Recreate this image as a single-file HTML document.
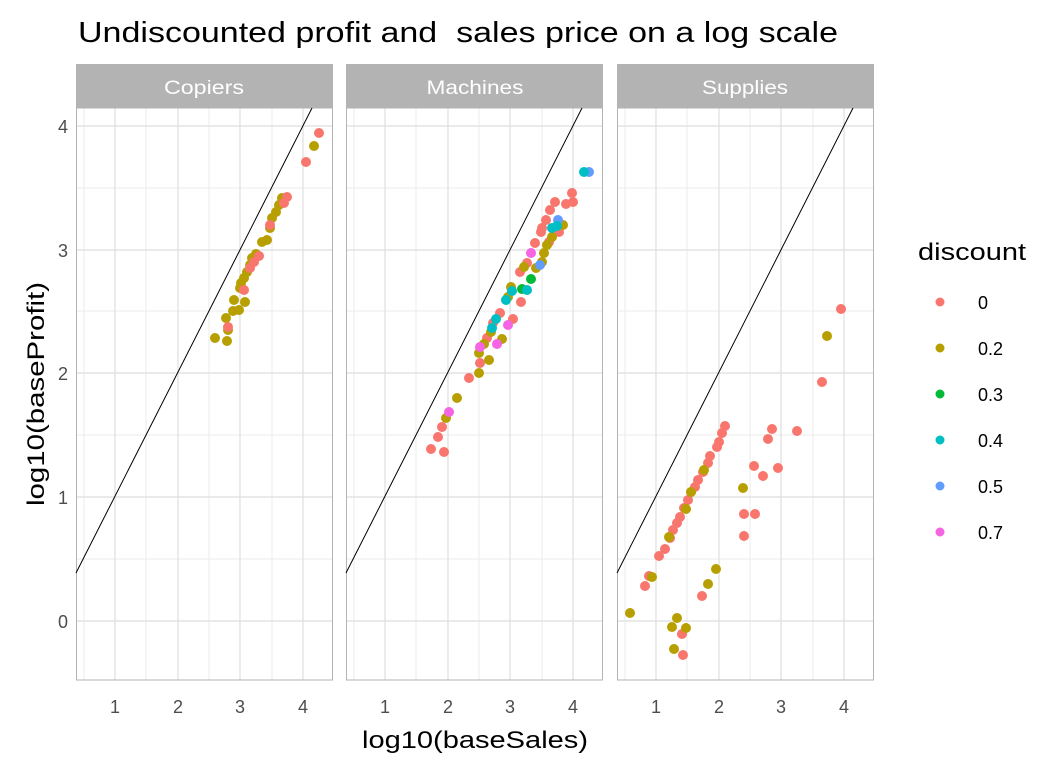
<!DOCTYPE html>
<html><head><style>body{margin:0;background:#fff}svg{display:block}text{font-family:"Liberation Sans",sans-serif}</style></head><body>
<svg width="1056" height="768" xmlns="http://www.w3.org/2000/svg">
<text x="78" y="42" font-size="29" fill="#000" textLength="760" lengthAdjust="spacingAndGlyphs" xml:space="preserve">Undiscounted profit and  sales price on a log scale</text>
<defs>
<g id="grid">
<rect x="0" y="108" width="257" height="572" fill="#fff"/>
<g stroke="#ebebeb" stroke-width="1">
<line x1="8" y1="108" x2="8" y2="680"/><line x1="70" y1="108" x2="70" y2="680"/><line x1="133" y1="108" x2="133" y2="680"/><line x1="196" y1="108" x2="196" y2="680"/>
<line x1="0" y1="559" x2="257" y2="559"/><line x1="0" y1="435" x2="257" y2="435"/><line x1="0" y1="311" x2="257" y2="311"/><line x1="0" y1="188" x2="257" y2="188"/>
</g>
<g stroke="#dedede" stroke-width="1.2">
<line x1="39" y1="108" x2="39" y2="680"/><line x1="102" y1="108" x2="102" y2="680"/><line x1="164" y1="108" x2="164" y2="680"/><line x1="227" y1="108" x2="227" y2="680"/>
<line x1="0" y1="621" x2="257" y2="621"/><line x1="0" y1="497" x2="257" y2="497"/><line x1="0" y1="373" x2="257" y2="373"/><line x1="0" y1="250" x2="257" y2="250"/><line x1="0" y1="126" x2="257" y2="126"/>
</g>
<rect x="0.5" y="108" width="256" height="572" fill="none" stroke="#b3b3b3"/>
<rect x="0" y="64" width="257" height="44" fill="#b3b3b3"/>
<line x1="0" y1="573" x2="236" y2="108" stroke="#000" stroke-width="1"/>
<g font-size="18" fill="#4d4d4d" text-anchor="middle"><text x="39" y="713">1</text><text x="102" y="713">2</text><text x="164" y="713">3</text><text x="227" y="713">4</text></g>
</g>
</defs>
<use href="#grid" x="76"/><use href="#grid" x="346"/><use href="#grid" x="617"/>
<g font-size="19" fill="#fff" text-anchor="middle"><text x="204" y="94" textLength="80" lengthAdjust="spacingAndGlyphs">Copiers</text><text x="475" y="94" textLength="97" lengthAdjust="spacingAndGlyphs">Machines</text><text x="745" y="94" textLength="86" lengthAdjust="spacingAndGlyphs">Supplies</text></g>
<g font-size="18" fill="#4d4d4d" text-anchor="end"><text x="68" y="133">4</text><text x="68" y="257">3</text><text x="68" y="380">2</text><text x="68" y="504">1</text><text x="68" y="628">0</text></g>
<text x="362" y="748" font-size="24" textLength="226" lengthAdjust="spacingAndGlyphs">log10(baseSales)</text>
<text transform="translate(44,506) rotate(-90)" font-size="24" textLength="224" lengthAdjust="spacingAndGlyphs">log10(baseProfit)</text>
<g fill="#B79F00">
<circle cx="215" cy="338" r="5"/><circle cx="227" cy="341" r="5"/><circle cx="228" cy="330" r="5"/><circle cx="226" cy="318" r="5"/><circle cx="234" cy="300" r="5"/><circle cx="233" cy="311" r="5"/><circle cx="240" cy="288" r="5"/><circle cx="245" cy="302" r="5"/><circle cx="239" cy="310" r="5"/><circle cx="241" cy="283" r="5"/><circle cx="244" cy="278" r="5"/><circle cx="247" cy="272" r="5"/><circle cx="250" cy="265" r="5"/><circle cx="252" cy="258" r="5"/><circle cx="256" cy="254" r="5"/><circle cx="262" cy="242" r="5"/><circle cx="267" cy="240" r="5"/><circle cx="270" cy="228" r="5"/><circle cx="272" cy="218" r="5"/><circle cx="276" cy="212" r="5"/><circle cx="279" cy="205" r="5"/><circle cx="282" cy="198" r="5"/><circle cx="314" cy="146" r="5"/>
</g>
<g fill="#F8766D">
<circle cx="228" cy="327" r="5"/><circle cx="244" cy="290" r="5"/><circle cx="250" cy="268" r="5"/><circle cx="254" cy="262" r="5"/><circle cx="259" cy="256" r="5"/><circle cx="270" cy="225" r="5"/><circle cx="284" cy="203" r="5"/><circle cx="287" cy="197" r="5"/><circle cx="306" cy="162" r="5"/><circle cx="319" cy="133" r="5"/>
</g>
<g fill="#F8766D">
<circle cx="431" cy="449" r="5"/><circle cx="444" cy="452" r="5"/><circle cx="438" cy="437" r="5"/><circle cx="442" cy="427" r="5"/><circle cx="469" cy="378" r="5"/><circle cx="480" cy="363" r="5"/><circle cx="487" cy="338" r="5"/><circle cx="493" cy="323" r="5"/><circle cx="500" cy="313" r="5"/><circle cx="513" cy="319" r="5"/><circle cx="521" cy="302" r="5"/><circle cx="520" cy="272" r="5"/><circle cx="527" cy="263" r="5"/><circle cx="535" cy="243" r="5"/><circle cx="549" cy="242" r="5"/><circle cx="559" cy="232" r="5"/><circle cx="541" cy="232" r="5"/><circle cx="542" cy="228" r="5"/><circle cx="546" cy="220" r="5"/><circle cx="550" cy="210" r="5"/><circle cx="555" cy="202" r="5"/><circle cx="566" cy="204" r="5"/><circle cx="573" cy="202" r="5"/><circle cx="572" cy="193" r="5"/>
</g>
<g fill="#B79F00">
<circle cx="446" cy="418" r="5"/><circle cx="457" cy="398" r="5"/><circle cx="479" cy="373" r="5"/><circle cx="489" cy="360" r="5"/><circle cx="479" cy="353" r="5"/><circle cx="484" cy="344" r="5"/><circle cx="502" cy="339" r="5"/><circle cx="491" cy="332" r="5"/><circle cx="508" cy="297" r="5"/><circle cx="511" cy="287" r="5"/><circle cx="524" cy="267" r="5"/><circle cx="536" cy="268" r="5"/><circle cx="542" cy="262" r="5"/><circle cx="544" cy="253" r="5"/><circle cx="547" cy="245" r="5"/><circle cx="552" cy="237" r="5"/><circle cx="563" cy="225" r="5"/>
</g>
<g fill="#00BA38"><circle cx="522" cy="289" r="5"/><circle cx="531" cy="279" r="5"/></g>
<g fill="#619CFF"><circle cx="540" cy="265" r="5"/><circle cx="558" cy="220" r="5"/><circle cx="589" cy="172" r="5"/></g>
<g fill="#00BFC4"><circle cx="492" cy="328" r="5"/><circle cx="496" cy="319" r="5"/><circle cx="506" cy="300" r="5"/><circle cx="512" cy="291" r="5"/><circle cx="527" cy="290" r="5"/><circle cx="552" cy="228" r="5"/><circle cx="557" cy="226" r="5"/><circle cx="584" cy="172" r="5"/></g>
<g fill="#F564E3"><circle cx="449" cy="412" r="5"/><circle cx="480" cy="347" r="5"/><circle cx="497" cy="344" r="5"/><circle cx="508" cy="325" r="5"/><circle cx="531" cy="253" r="5"/></g>
<g fill="#F8766D">
<circle cx="841" cy="309" r="5"/><circle cx="822" cy="382" r="5"/><circle cx="725" cy="426" r="5"/><circle cx="722" cy="433" r="5"/><circle cx="719" cy="442" r="5"/><circle cx="717" cy="447" r="5"/><circle cx="710" cy="456" r="5"/><circle cx="708" cy="463" r="5"/><circle cx="703" cy="472" r="5"/><circle cx="698" cy="480" r="5"/><circle cx="695" cy="487" r="5"/><circle cx="691" cy="492" r="5"/><circle cx="688" cy="500" r="5"/><circle cx="684" cy="508" r="5"/><circle cx="680" cy="517" r="5"/><circle cx="677" cy="523" r="5"/><circle cx="673" cy="530" r="5"/><circle cx="670" cy="538" r="5"/><circle cx="665" cy="549" r="5"/><circle cx="659" cy="556" r="5"/><circle cx="649" cy="576" r="5"/><circle cx="645" cy="586" r="5"/>
<circle cx="772" cy="429" r="5"/><circle cx="797" cy="431" r="5"/><circle cx="768" cy="439" r="5"/><circle cx="754" cy="466" r="5"/><circle cx="763" cy="476" r="5"/><circle cx="778" cy="468" r="5"/><circle cx="744" cy="514" r="5"/><circle cx="755" cy="514" r="5"/><circle cx="744" cy="536" r="5"/><circle cx="702" cy="596" r="5"/><circle cx="682" cy="634" r="5"/><circle cx="683" cy="655" r="5"/>
</g>
<g fill="#B79F00">
<circle cx="827" cy="336" r="5"/><circle cx="704" cy="470" r="5"/><circle cx="691" cy="492" r="5"/><circle cx="686" cy="509" r="5"/><circle cx="669" cy="537" r="5"/><circle cx="652" cy="577" r="5"/><circle cx="630" cy="613" r="5"/><circle cx="743" cy="488" r="5"/><circle cx="716" cy="569" r="5"/><circle cx="708" cy="584" r="5"/><circle cx="677" cy="618" r="5"/><circle cx="672" cy="627" r="5"/><circle cx="686" cy="628" r="5"/><circle cx="674" cy="649" r="5"/>
</g>
<text x="918" y="260" font-size="24" textLength="108" lengthAdjust="spacingAndGlyphs">discount</text>
<g font-size="18" fill="#000">
<circle cx="940" cy="302" r="4.5" fill="#F8766D"/><text x="978" y="309">0</text>
<circle cx="940" cy="348" r="4.5" fill="#B79F00"/><text x="978" y="355">0.2</text>
<circle cx="940" cy="394" r="4.5" fill="#00BA38"/><text x="978" y="401">0.3</text>
<circle cx="940" cy="440" r="4.5" fill="#00BFC4"/><text x="978" y="447">0.4</text>
<circle cx="940" cy="486" r="4.5" fill="#619CFF"/><text x="978" y="493">0.5</text>
<circle cx="940" cy="532" r="4.5" fill="#F564E3"/><text x="978" y="539">0.7</text>
</g>
</svg>
</body></html>
